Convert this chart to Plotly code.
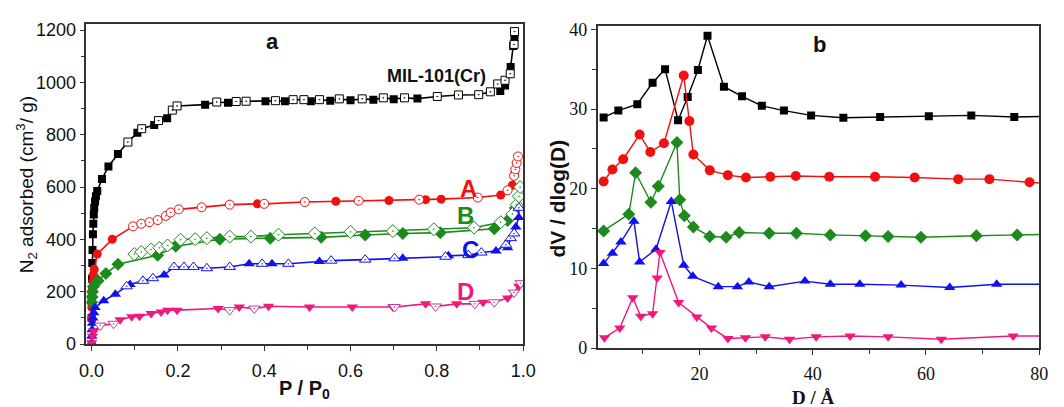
import plotly.graph_objects as go

# ---------------- Panel a : N2 isotherms ----------------
mil_ads_x = [0.0, 0.0005, 0.001, 0.0015, 0.002, 0.003, 0.004, 0.005, 0.006, 0.008, 0.01, 0.013,
             0.024, 0.039, 0.061, 0.106, 0.145, 0.175, 0.263, 0.316, 0.403, 0.448, 0.508, 0.553,
             0.6, 0.653, 0.7, 0.755, 0.947, 0.958, 0.971, 0.977, 0.98]
mil_ads_y = [100, 180, 250, 310, 360, 420, 460, 495, 520, 545, 565, 585,
             631, 679, 726, 808, 837, 863, 915, 922, 928, 928, 928, 930,
             932, 934, 936, 938, 967, 988, 1059, 1139, 1170]
mil_des_x = [0.084, 0.116, 0.155, 0.187, 0.198, 0.29, 0.335, 0.358, 0.426, 0.467, 0.492, 0.528,
             0.574, 0.627, 0.676, 0.725, 0.801, 0.85, 0.897, 0.924, 0.941, 0.958, 0.97, 0.979, 0.98]
mil_des_y = [772, 823, 854, 894, 910, 925, 927, 928, 930, 934, 934, 934,
             937, 937, 941, 941, 946, 952, 953, 964, 994, 1008, 1033, 1145, 1194]

a_ads_x = [0.0, 0.0005, 0.001, 0.002, 0.003, 0.004, 0.006, 0.013, 0.048, 0.384, 0.566, 0.689,
           0.774, 0.81, 0.948, 0.975, 0.98]
a_ads_y = [100, 140, 180, 215, 240, 265, 286, 344, 401, 536, 546, 549, 552, 554, 570, 607, 650]
a_des_x = [0.096, 0.115, 0.134, 0.153, 0.172, 0.183, 0.202, 0.255, 0.32, 0.4, 0.494, 0.619,
           0.759, 0.895, 0.964, 0.979, 0.982, 0.985, 0.988]
a_des_y = [450, 460, 466, 474, 490, 503, 515, 523, 533, 536, 543, 548, 552, 560, 588, 643, 668, 692, 717]

b_ads_x = [0.0, 0.001, 0.002, 0.004, 0.015, 0.033, 0.061, 0.153, 0.195, 0.297, 0.414, 0.532,
           0.634, 0.721, 0.808, 0.933, 0.964, 0.982]
b_ads_y = [160, 180, 200, 220, 242, 270, 305, 340, 374, 401, 405, 408, 417, 423, 426, 441, 472, 520]
b_des_x = [0.099, 0.115, 0.138, 0.157, 0.176, 0.206, 0.24, 0.267, 0.32, 0.369, 0.433, 0.517,
           0.6, 0.698, 0.793, 0.886, 0.948, 0.975, 0.985, 0.99, 0.993]
b_des_y = [344, 352, 362, 368, 377, 399, 401, 405, 411, 411, 418, 423, 429, 432, 439, 445, 466,
           497, 533, 565, 600]

c_ads_x = [0.0, 0.0005, 0.001, 0.002, 0.003, 0.005, 0.008, 0.028, 0.055, 0.089, 0.168, 0.365,
           0.418, 0.528, 0.721, 0.827, 0.937, 0.964, 0.983, 0.99]
c_ads_y = [5, 30, 55, 80, 100, 120, 140, 166, 191, 228, 264, 307, 307, 316, 328, 338, 356, 368, 448, 484]
c_des_x = [0.081, 0.119, 0.142, 0.191, 0.214, 0.236, 0.267, 0.32, 0.395, 0.456, 0.555, 0.634,
           0.702, 0.82, 0.873, 0.903, 0.96, 0.971, 0.979, 0.99]
c_des_y = [221, 242, 252, 295, 295, 295, 290, 295, 307, 307, 319, 323, 328, 334, 340, 350, 380,
           405, 423, 521]

d_ads_x = [0.0, 0.002, 0.005, 0.066, 0.093, 0.111, 0.138, 0.161, 0.176, 0.198, 0.293, 0.342,
           0.41, 0.505, 0.604, 0.698, 0.774, 0.846, 0.907, 0.964, 0.979, 0.99]
d_ads_y = [5, 30, 50, 93, 105, 107, 117, 123, 130, 130, 136, 142, 145, 142, 142, 142, 154, 154,
           160, 176, 197, 221]
d_des_x = [0.02, 0.051, 0.32, 0.377, 0.702, 0.797, 0.888, 0.933, 0.979, 0.994]
d_des_y = [71, 78, 130, 136, 142, 144, 154, 160, 197, 233]

# ---------------- Panel b : pore size distributions ----------------
D_black = [3.05, 5.65, 9.0, 11.7, 13.9, 16.2, 17.9, 19.7, 21.4, 24.3, 27.5, 31.0, 34.9, 39.7,
           45.4, 51.9, 60.5, 68.0, 75.6, 84]
V_black = [28.95, 29.8, 30.6, 33.3, 35.0, 28.6, 31.5, 34.9, 39.2, 32.8, 31.6, 30.4, 29.8, 29.2,
           28.9, 29.0, 29.1, 29.2, 29.0, 29.1]
D_red = [3.05, 4.6, 6.5, 9.4, 11.3, 13.7, 17.2, 18.2, 18.9, 21.8, 25.0, 28.2, 32.5, 37.0, 42.9,
         51.0, 58.0, 65.7, 71.2, 78.3, 84]
V_red = [20.9, 22.4, 23.7, 26.8, 24.6, 25.7, 34.2, 28.5, 24.3, 22.3, 21.7, 21.4, 21.5, 21.6, 21.5,
         21.5, 21.4, 21.2, 21.2, 20.8, 20.5]
D_green = [3.05, 7.5, 8.7, 11.4, 12.7, 16.0, 16.5, 17.3, 18.9, 21.8, 24.7, 27.0, 32.3, 37.1, 43.1,
           49.3, 53.3, 59.1, 68.9, 76.1, 84]
V_green = [14.7, 16.8, 22.0, 18.3, 20.3, 25.8, 18.6, 16.6, 15.2, 14.0, 13.9, 14.5, 14.4, 14.4,
           14.2, 14.1, 14.0, 13.9, 14.1, 14.2, 14.3]
D_blue = [3.05, 4.6, 6.1, 8.4, 9.4, 12.3, 15.0, 17.2, 18.8, 23.3, 26.7, 28.7, 32.3, 38.6, 43.1,
          48.3, 55.6, 64.2, 72.5, 84]
V_blue = [10.6, 11.9, 13.3, 15.9, 10.8, 12.4, 18.4, 10.4, 9.0, 7.7, 7.7, 8.3, 7.7, 8.4, 8.0, 8.0,
          7.9, 7.6, 8.0, 8.0]
D_pink = [3.2, 5.9, 8.2, 9.6, 11.7, 12.5, 13.0, 16.3, 19.5, 22.1, 25.0, 28.1, 31.6, 35.9, 40.6,
          46.6, 53.3, 62.7, 75.4, 84]
V_pink = [1.3, 2.5, 6.3, 4.0, 4.3, 8.8, 12.0, 5.7, 3.9, 2.5, 1.2, 1.3, 1.4, 1.1, 1.4, 1.5, 1.4,
          1.1, 1.5, 1.5]

BLACK = "#000000"
RED = "#f01010"
GREEN = "#1c8a1c"
BLUE = "#1010f0"
PINK = "#f0187c"
PINK_OPEN = "#c43aa0"

SANS = "Liberation Sans, Arial, sans-serif"
SERIF = "Liberation Serif, Times New Roman, serif"

fig = go.Figure()

# (ads x, ads y, des x, des y, colour, open colour, symbol, size, merged line?)
iso = [
    (mil_ads_x, mil_ads_y, mil_des_x, mil_des_y, BLACK, BLACK, "square", 8, True),
    (a_ads_x, a_ads_y, a_des_x, a_des_y, RED, RED, "circle", 9, True),
    (b_ads_x, b_ads_y, b_des_x, b_des_y, GREEN, GREEN, "diamond", 10, False),
    (c_ads_x, c_ads_y, c_des_x, c_des_y, BLUE, BLUE, "triangle-up", 10, True),
    (d_ads_x, d_ads_y, d_des_x, d_des_y, PINK, PINK_OPEN, "triangle-down", 10, True),
]
for ax_, ay_, dx_, dy_, col, ocol, sym, sz, merged in iso:
    if merged:
        pts = sorted(zip(list(ax_) + list(dx_), list(ay_) + list(dy_)))
        fig.add_trace(go.Scatter(
            x=[p[0] for p in pts], y=[p[1] for p in pts], mode="lines",
            xaxis="x", yaxis="y", line=dict(color=col, width=1.6), showlegend=False))
        amode = dmode = "markers"
    else:
        amode = dmode = "lines+markers"
    fig.add_trace(go.Scatter(
        x=ax_, y=ay_, mode=amode, xaxis="x", yaxis="y",
        line=dict(color=col, width=1.6),
        marker=dict(symbol=sym, size=sz, color=col, line=dict(width=0)),
        showlegend=False))
    fig.add_trace(go.Scatter(
        x=dx_, y=dy_, mode=dmode, xaxis="x", yaxis="y",
        line=dict(color=col, width=1.6),
        marker=dict(symbol=sym + "-dot", size=sz, color="white",
                    line=dict(color=ocol, width=1)),
        showlegend=False))

psd = [
    (D_black, V_black, BLACK, "square", 8),
    (D_red, V_red, RED, "circle", 10),
    (D_green, V_green, GREEN, "diamond", 10),
    (D_blue, V_blue, BLUE, "triangle-up", 10),
    (D_pink, V_pink, PINK, "triangle-down", 10),
]
for dx_, vy_, col, sym, sz in psd:
    fig.add_trace(go.Scatter(
        x=dx_, y=vy_, mode="lines+markers", xaxis="x2", yaxis="y2",
        line=dict(color=col, width=1.4),
        marker=dict(symbol=sym, size=sz, color=col, line=dict(width=0)),
        showlegend=False))

axis_common = dict(showgrid=False, zeroline=False, showline=True, mirror=True,
                   linecolor="#333333", linewidth=1.5, ticks="outside", ticklen=5,
                   tickwidth=1.2, tickcolor="#333333")

fig.update_layout(
    width=1064, height=407,
    margin=dict(l=0, r=0, t=0, b=0),
    paper_bgcolor="white", plot_bgcolor="white",
    xaxis=dict(domain=[0.0761, 0.4944], range=[-0.012, 1.0], anchor="y",
               tickvals=[0, 0.2, 0.4, 0.6, 0.8, 1.0],
               ticktext=["0.0", "0.2", "0.4", "0.6", "0.8", "1.0"],
               ticklabelstandoff=4,
               minor=dict(ticks="outside", ticklen=4, dtick=0.1, tick0=0, tickcolor="#333333"),
               tickfont=dict(family=SANS, size=18, color="#111"), **axis_common),
    yaxis=dict(domain=[0.1351, 0.9533], range=[0, 1222], anchor="x",
               tickvals=[0, 200, 400, 600, 800, 1000, 1200],
               minor=dict(ticks="outside", ticklen=4, dtick=100, tick0=0, tickcolor="#333333"),
               tickfont=dict(family=SANS, size=18, color="#111"), **axis_common),
    xaxis2=dict(domain=[0.5658, 0.9887], range=[2.0, 80], anchor="y2",
                tickvals=[20, 40, 60, 80],
                ticklabelstandoff=4,
                minor=dict(ticks="outside", ticklen=4, dtick=10, tick0=0, tickcolor="#333333"),
                tickfont=dict(family=SERIF, size=18, color="#111"), **axis_common),
    yaxis2=dict(domain=[0.1253, 0.9484], range=[0, 40.4], anchor="x2",
                tickvals=[0, 10, 20, 30, 40],
                minor=dict(ticks="outside", ticklen=4, dtick=5, tick0=0, tickcolor="#333333"),
                tickfont=dict(family=SERIF, size=18, color="#111"), **axis_common),
)

bold = dict(family=SANS, size=22, color="#111")
ann = [
    dict(text="<b>a</b>", x=0.418, y=1156, xref="x", yref="y", font=bold),
    dict(text="<b>MIL-101(Cr)</b>", x=0.80, y=1024, xref="x", yref="y",
         font=dict(family=SANS, size=18, color="#111")),
    dict(text="<b>A</b>", x=0.873, y=594, xref="x", yref="y", font=dict(family=SANS, size=24, color=RED)),
    dict(text="<b>B</b>", x=0.866, y=492, xref="x", yref="y", font=dict(family=SANS, size=24, color=GREEN)),
    dict(text="<b>C</b>", x=0.877, y=363, xref="x", yref="y", font=dict(family=SANS, size=24, color=BLUE)),
    dict(text="<b>D</b>", x=0.866, y=202, xref="x", yref="y", font=dict(family=SANS, size=24, color=PINK)),
    dict(text="<b>b</b>", x=41.1, y=38.1, xref="x2", yref="y2", font=bold),
    dict(text="N<sub>2</sub> adsorbed (cm<sup>3</sup>/ g)", textangle=-90,
         x=20 / 1064, y=1 - 186 / 407, xref="paper", yref="paper",
         font=dict(family=SANS, size=19, color="#111")),
    dict(text="<b>P / P<sub>0</sub></b>", x=303 / 1064, y=1 - 399 / 407, xref="paper", yref="paper",
         font=dict(family=SANS, size=20, color="#111")),
    dict(text="<b>dV / dlog(D)</b>", textangle=-90,
         x=561 / 1064, y=1 - 200 / 407, xref="paper", yref="paper",
         font=dict(family=SANS, size=21, color="#111")),
    dict(text="<b>D / Å</b>", x=822 / 1064, y=1 - 408 / 407, xref="paper", yref="paper",
         font=dict(family=SERIF, size=19, color="#111")),
]
for a in ann:
    a.setdefault("showarrow", False)
    a.setdefault("xanchor", "center")
    a.setdefault("yanchor", "middle")
fig.update_layout(annotations=ann)

fig.write_html("out.html")
